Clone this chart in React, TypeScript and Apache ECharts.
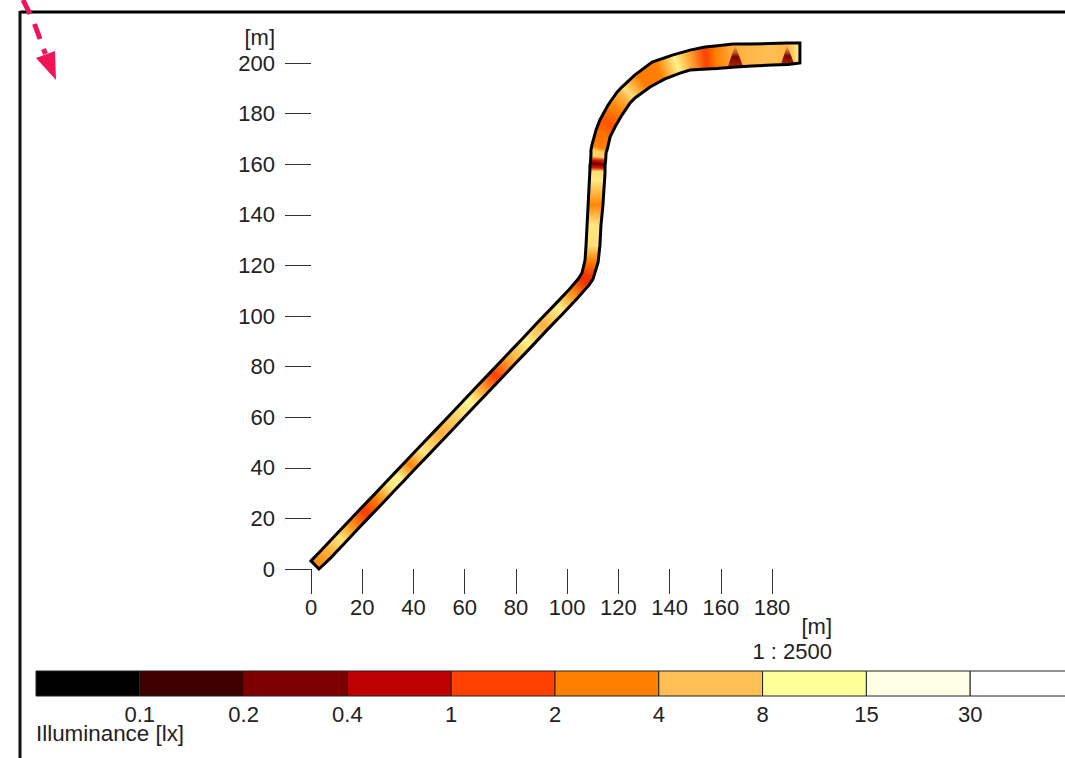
import React, { useEffect, useRef } from "react";
import * as echarts from "echarts";

const FONT = "Liberation Sans";
const xTicks = [0, 20, 40, 60, 80, 100, 120, 140, 160, 180];
const yTicks = [0, 20, 40, 60, 80, 100, 120, 140, 160, 180, 200];
const legendLabels = ["", "0.1", "0.2", "0.4", "1", "2", "4", "8", "15", "30", ""];
const legendEdges = [0, 0.1, 0.2, 0.4, 1, 2, 4, 8, 15, 30, 60];
const legendColors = ["#000000", "#3f0000", "#7f0000", "#bf0000", "#ff4000", "#ff8000", "#ffbf55", "#ffff99", "#ffffe6", "#ffffff"];

// Road edges (metres) and illuminance (lx) along the road
const leftX = [0, 4.3, 9.8, 14.8, 19.5, 24.2, 29.3, 32.8, 37.1, 42.2, 48.8, 54.7, 60.5, 65.2, 70.3, 76.1, 82.8, 89.0, 95.3, 100.7, 104.3, 105.8, 107.0, 107.4, 107.8, 108.2, 108.7, 108.9, 108.9, 109.1, 109.2, 109.3, 109.3, 109.7, 111.3, 112.8, 116.0, 119.5, 121.4, 126.5, 133.2, 141.4, 148.0, 153.8, 157.8, 164.8, 171.4, 179.2, 185.9, 190.9];
const leftY = [3.2, 7.7, 13.6, 19.0, 24.0, 28.9, 34.4, 38.1, 42.7, 48.1, 55.1, 61.4, 67.6, 72.6, 78.0, 84.2, 91.3, 98.0, 104.6, 110.4, 114.6, 117.0, 122.1, 128.1, 136.0, 143.9, 153.8, 157.7, 159.3, 160.7, 162.1, 163.6, 165.6, 167.6, 173.5, 177.5, 183.4, 188.5, 190.5, 195.3, 200.4, 203.2, 205.1, 206.3, 206.7, 207.5, 207.5, 207.7, 207.9, 207.9];
const rightX = [3.1, 7.6, 13.1, 18.1, 22.8, 27.5, 32.6, 36.1, 40.4, 45.5, 52.1, 58.0, 63.8, 68.5, 73.6, 79.4, 86.1, 92.3, 98.6, 104.0, 108.6, 110.1, 112.1, 112.8, 113.2, 114.0, 114.6, 114.8, 114.8, 114.8, 115.0, 115.1, 115.2, 115.6, 116.8, 118.7, 121.4, 124.6, 126.5, 132.4, 138.2, 144.1, 148.0, 154.6, 158.6, 165.6, 172.2, 180.0, 186.3, 190.9];
const rightY = [0, 4.3, 10.2, 15.6, 20.6, 25.5, 31.0, 34.7, 39.3, 44.7, 51.7, 58.0, 64.2, 69.2, 74.6, 80.8, 87.9, 94.6, 101.2, 107.0, 112.3, 114.6, 121.3, 127.7, 135.6, 143.9, 153.4, 156.5, 158.1, 159.5, 160.9, 162.5, 164.4, 165.6, 170.8, 174.7, 179.4, 184.2, 186.2, 190.5, 193.7, 196.0, 197.2, 197.6, 197.8, 198.4, 198.8, 199.2, 199.4, 200.0];
const illuminance = [3.2, 4.5, 8.5, 3.5, 1.4, 3, 9, 10, 3.2, 9, 5, 7, 11, 4.5, 1.5, 4.5, 10, 5, 10, 3.5, 1.3, 1.3, 3, 8, 9, 3.2, 9, 8, 0.9, 0.25, 0.9, 7, 7, 3, 2.5, 1.8, 3, 5, 8, 2.8, 3, 10, 4.5, 1.5, 3, 5, 5.5, 6, 5.5, 10];

// Dark spots under the luminaires: apex x/y, base-left x/y, base-right x/y
const spotApexX = [165.6, 185.9];
const spotApexY = [207, 207];
const spotBaseLeftX = [162.8, 183.5];
const spotBaseLeftY = [198.6, 199.4];
const spotBaseRightX = [168.6, 188.6];
const spotBaseRightY = [199.0, 199.8];
const spotLux = [0.3, 0.3];

function hexToRgb(h: string) {
  return [parseInt(h.slice(1, 3), 16), parseInt(h.slice(3, 5), 16), parseInt(h.slice(5, 7), 16)];
}
function luxColor(v: number) {
  let b = 0;
  while (b < legendEdges.length - 2 && v >= legendEdges[b + 1]) b++;
  const lo = legendEdges[b];
  const hi = legendEdges[b + 1];
  const pos = b + (v - lo) / (hi - lo) - 0.5;
  const i = Math.max(0, Math.min(legendColors.length - 2, Math.floor(pos)));
  const t = Math.max(0, Math.min(1, pos - i));
  const a = hexToRgb(legendColors[i]);
  const c = hexToRgb(legendColors[i + 1]);
  return `rgb(${a.map((x, k) => Math.round(x + (c[k] - x) * t)).join(",")})`;
}

export default function App() {
  const ref = useRef<HTMLDivElement>(null);
  useEffect(() => {
    const chart = echarts.init(ref.current!, undefined, { renderer: "svg" });
    const textStyle = { fill: "#222", fontFamily: FONT, fontSize: 22 };
    const bandRows = illuminance.slice(0, -1).map((v, i) => [
      leftX[i], leftY[i], rightX[i], rightY[i],
      leftX[i + 1], leftY[i + 1], rightX[i + 1], rightY[i + 1],
      v, illuminance[i + 1],
    ]);
    const spotRows = spotLux.map((v, i) => [
      spotApexX[i], spotApexY[i], spotBaseLeftX[i], spotBaseLeftY[i], spotBaseRightX[i], spotBaseRightY[i], v,
    ]);
    const outline = [
      ...leftX.map((x, i) => [x, leftY[i]]),
      ...rightX.map((x, i) => [x, rightY[i]]).reverse(),
    ];
    chart.setOption({
      animation: false,
      backgroundColor: "#ffffff",
      grid: [
        { left: 311, top: 63, width: 461, height: 506, outerBoundsMode: "none" },
        { left: 36, top: 671, width: 1038, height: 25, outerBoundsMode: "none" },
      ],
      xAxis: [
        {
          type: "value", gridIndex: 0, min: 0, max: 180, interval: 20,
          axisLine: { show: false },
          splitLine: { show: false },
          axisTick: { show: true, length: 25, lineStyle: { color: "#333", width: 1 } },
          axisLabel: { color: "#222", fontFamily: FONT, fontSize: 22, margin: 27, formatter: (v: number) => (xTicks.includes(v) ? String(v) : "") },
        },
        {
          type: "value", gridIndex: 1, min: 0, max: 10, interval: 1,
          axisLine: { show: false },
          splitLine: { show: false },
          axisTick: { show: false },
          axisLabel: { color: "#222", fontFamily: FONT, fontSize: 22, margin: 7, showMinLabel: true, showMaxLabel: true, formatter: (v: number) => legendLabels[v] ?? "" },
        },
      ],
      yAxis: [
        {
          type: "value", gridIndex: 0, min: 0, max: 200, interval: 20,
          axisLine: { show: false },
          splitLine: { show: false },
          axisTick: { show: true, length: 26, lineStyle: { color: "#333", width: 1 } },
          axisLabel: { color: "#222", fontFamily: FONT, fontSize: 22, margin: 36, formatter: (v: number) => (yTicks.includes(v) ? String(v) : "") },
        },
        { type: "value", gridIndex: 1, min: 0, max: 1, show: false },
      ],
      series: [
        {
          type: "custom",
          xAxisIndex: 0, yAxisIndex: 0,
          encode: { x: [0, 2, 4, 6], y: [1, 3, 5, 7] },
          data: bandRows,
          renderItem: (_p: any, api: any) => {
            const a = api.coord([api.value(0), api.value(1)]);
            const b = api.coord([api.value(2), api.value(3)]);
            const c = api.coord([api.value(6), api.value(7)]);
            const d = api.coord([api.value(4), api.value(5)]);
            const grad = new echarts.graphic.LinearGradient(
              (a[0] + b[0]) / 2, (a[1] + b[1]) / 2, (c[0] + d[0]) / 2, (c[1] + d[1]) / 2,
              [{ offset: 0, color: luxColor(api.value(8)) }, { offset: 1, color: luxColor(api.value(9)) }],
              true,
            );
            return { type: "polygon", shape: { points: [a, b, c, d] }, style: { fill: grad, stroke: grad, lineWidth: 0.8 } };
          },
          silent: true,
          z: 2,
        },
        {
          type: "custom",
          xAxisIndex: 0, yAxisIndex: 0,
          encode: { x: [0, 2, 4], y: [1, 3, 5] },
          data: spotRows,
          renderItem: (_p: any, api: any) => {
            const top = api.coord([api.value(0), api.value(1)]);
            const l = api.coord([api.value(2), api.value(3)]);
            const r = api.coord([api.value(4), api.value(5)]);
            const grad = new echarts.graphic.LinearGradient(
              top[0], top[1], top[0], l[1],
              [{ offset: 0, color: "rgba(200,90,0,0.1)" }, { offset: 0.55, color: luxColor(api.value(6)) }, { offset: 1, color: "#a82800" }],
              true,
            );
            return { type: "polygon", shape: { points: [top, l, r] }, style: { fill: grad } };
          },
          silent: true,
          z: 3,
        },
        {
          type: "custom",
          xAxisIndex: 0, yAxisIndex: 0,
          encode: { x: 0, y: 1 },
          data: [outline[0]],
          renderItem: (_p: any, api: any) => ({
            type: "polygon",
            shape: { points: outline.map((pt) => api.coord(pt)) },
            style: { fill: "none", stroke: "#000", lineWidth: 3, lineJoin: "miter" },
          }),
          silent: true,
          z: 4,
        },
        {
          type: "custom",
          xAxisIndex: 1, yAxisIndex: 1,
          encode: { x: [0, 1] },
          data: legendColors.map((_, i) => [i, i + 1]),
          renderItem: (p: any, api: any) => {
            const a = api.coord([api.value(0), 1]);
            const b = api.coord([api.value(1), 0]);
            return {
              type: "rect",
              shape: { x: a[0], y: a[1], width: b[0] - a[0], height: b[1] - a[1] },
              style: { fill: legendColors[p.dataIndex], stroke: "#222", lineWidth: 1 },
            };
          },
          silent: true,
        },
      ],
      graphic: [
        { type: "line", shape: { x1: 20, y1: 12, x2: 1065, y2: 12 }, style: { stroke: "#000", lineWidth: 3 } },
        { type: "line", shape: { x1: 20, y1: 11, x2: 20, y2: 758 }, style: { stroke: "#111", lineWidth: 3 } },
        { type: "line", shape: { x1: 23, y1: 0, x2: 30, y2: 14 }, style: { stroke: "#f0145a", lineWidth: 5 } },
        { type: "line", shape: { x1: 34.5, y1: 24, x2: 40, y2: 39 }, style: { stroke: "#f0145a", lineWidth: 5 } },
        { type: "line", shape: { x1: 43.5, y1: 49, x2: 45.5, y2: 54 }, style: { stroke: "#f0145a", lineWidth: 5 } },
        { type: "polygon", shape: { points: [[36, 58], [55, 51], [56, 80]] }, style: { fill: "#f0145a" } },
        { type: "text", x: 275, y: 37, style: { ...textStyle, text: "[m]", align: "right", verticalAlign: "middle" } },
        { type: "text", x: 832, y: 626, style: { ...textStyle, text: "[m]", align: "right", verticalAlign: "middle" } },
        { type: "text", x: 832, y: 651, style: { ...textStyle, text: "1 : 2500", align: "right", verticalAlign: "middle" } },
        { type: "text", x: 36, y: 733, style: { ...textStyle, fontSize: 22.4, text: "Illuminance [lx]", align: "left", verticalAlign: "middle" } },
      ],
    });
    return () => chart.dispose();
  }, []);
  return <div ref={ref} style={{ position: "fixed", left: 0, top: 0, width: 1065, height: 758 }} />;
}
